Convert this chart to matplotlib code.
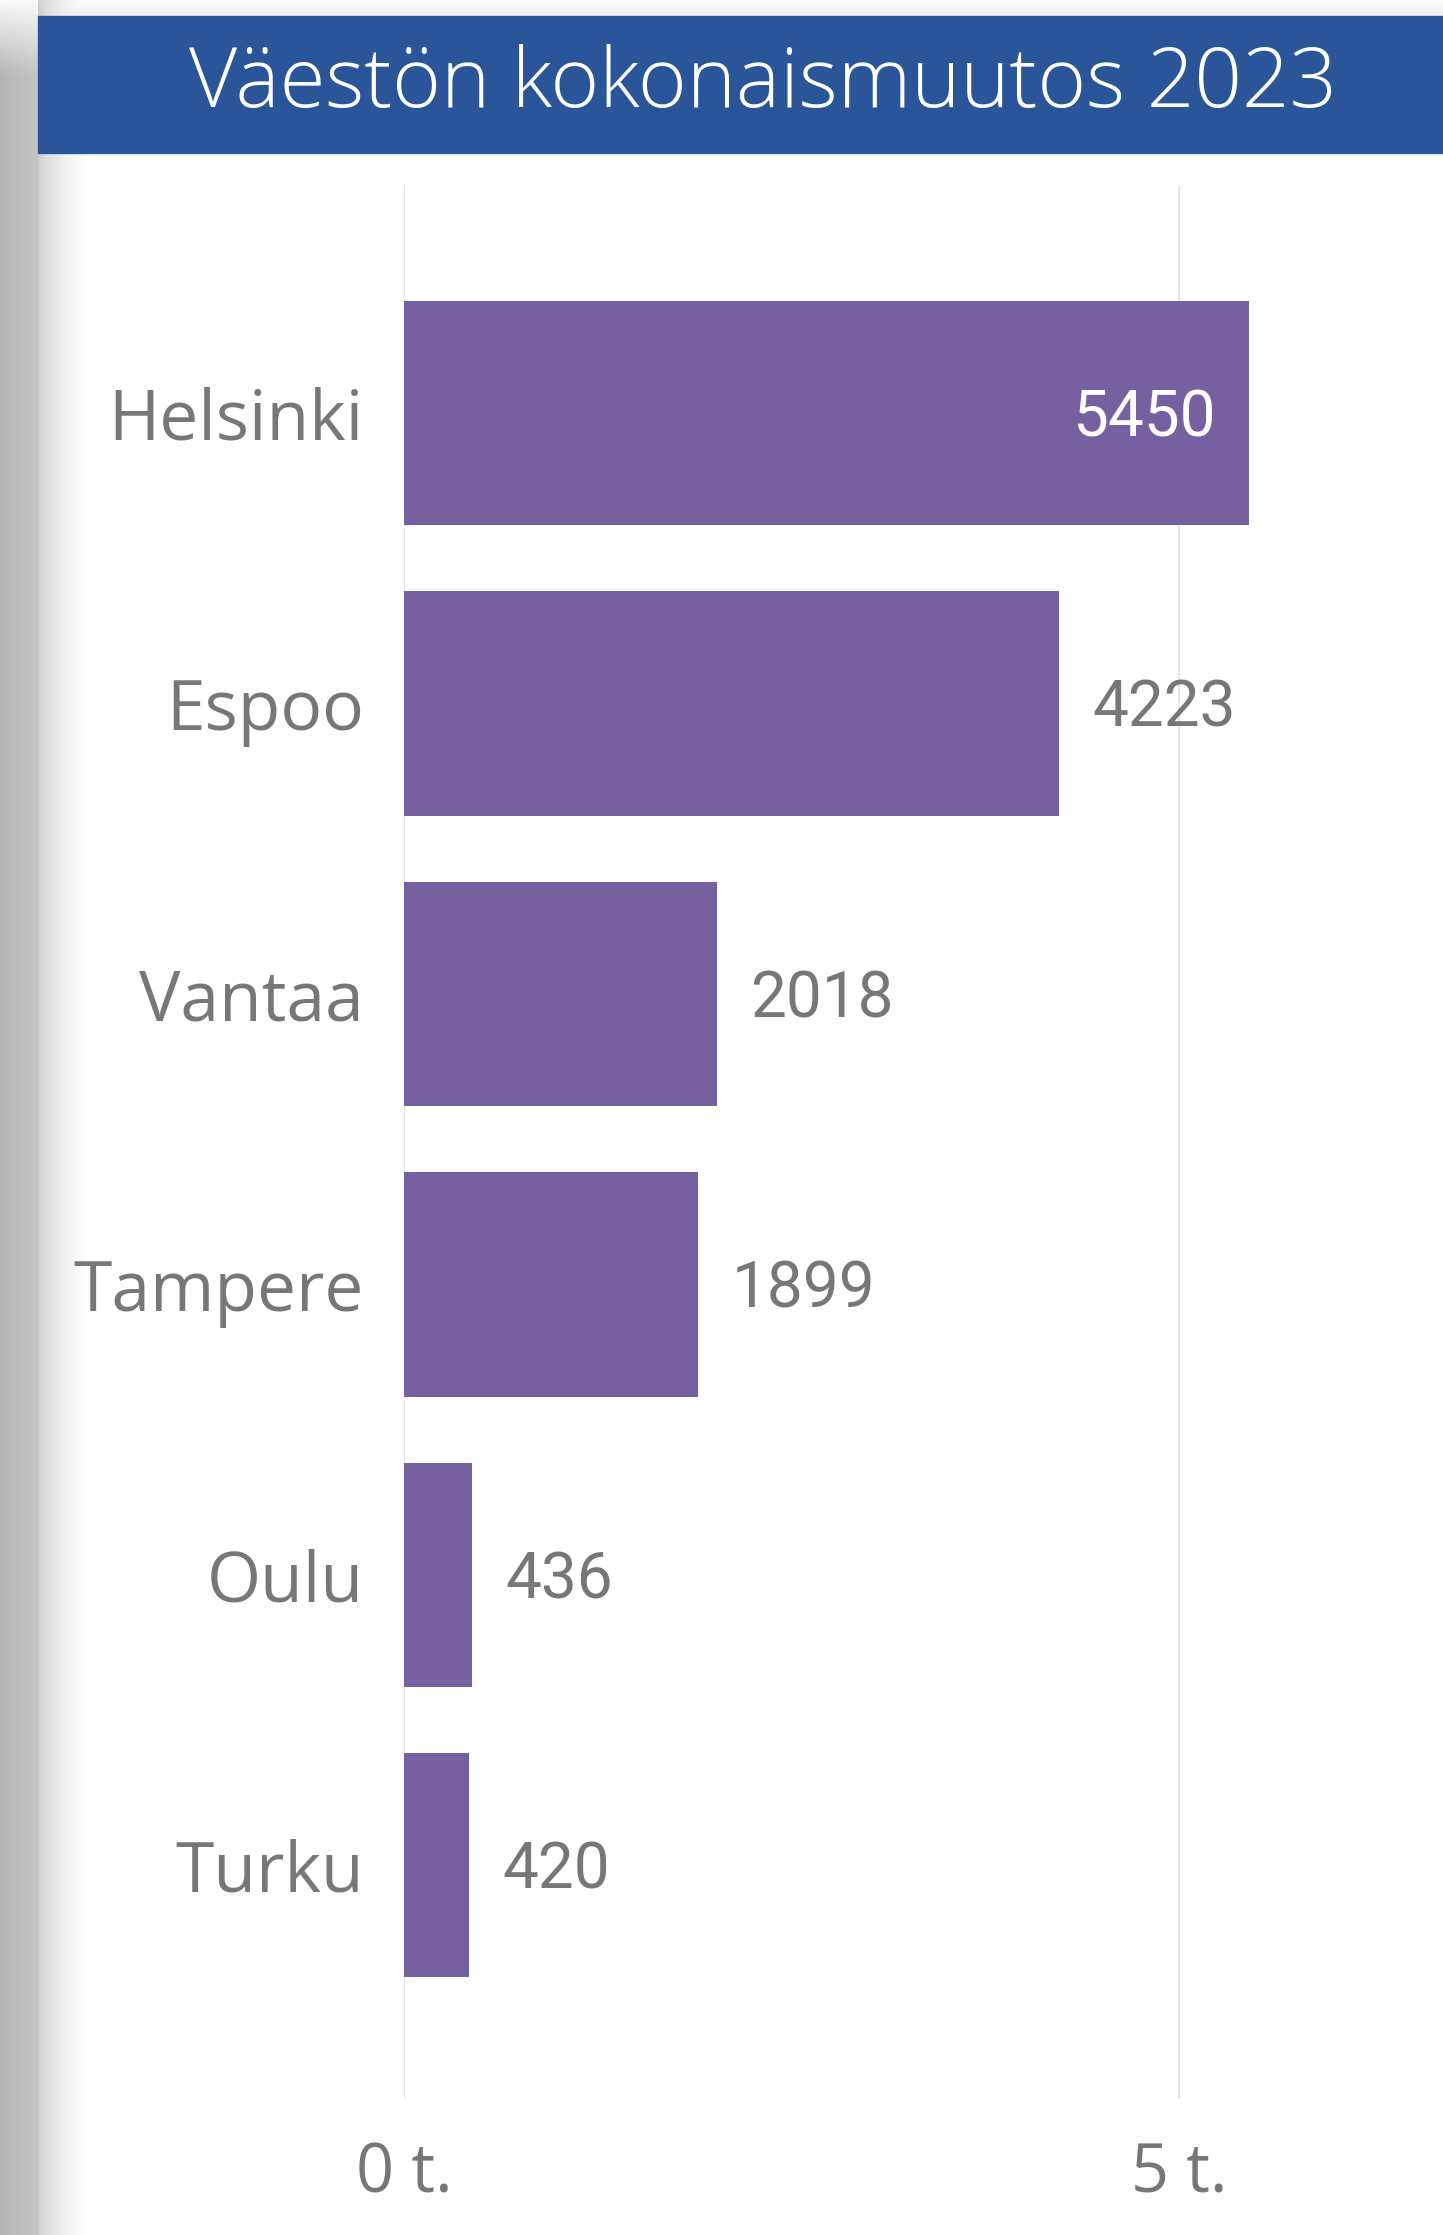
import numpy as np
import matplotlib
matplotlib.use("Agg")
import matplotlib.pyplot as plt
from matplotlib.patches import Rectangle

# Data
cities = ["Helsinki", "Espoo", "Vantaa", "Tampere", "Oulu", "Turku"]
changes = [5450, 4223, 2018, 1899, 436, 420]
x_ticks = [0, 5000]
x_tick_labels = ["0 t.", "5 t."]
title = "Väestön kokonaismuutos 2023"

W, H = 1443, 2235
bar_color = "#7561a0"
header_color = "#2a5699"
text_gray = "#777777"

fig = plt.figure(figsize=(W / 100, H / 100), dpi=100)

# Background (shadow along the left and top edge of the card)
bg = fig.add_axes([0, 0, 1, 1])
bg.set_xlim(0, W)
bg.set_ylim(H, 0)
bg.axis("off")

xs = np.arange(W)[None, :].astype(float)
ys = np.arange(H)[:, None].astype(float)
left = np.where(xs < 38, 0.71 + 0.06 * xs / 38,
                np.where(xs < 85, 0.80 + 0.20 * ((xs - 38) / 47) ** 0.6, 1.0))
shade = np.broadcast_to(left, (H, W)).copy()
top_fade = np.clip(1 - ys / 75, 0, 1)
shade = shade + (1 - shade) * top_fade * 0.92 * (xs < 38)
top_band = np.where(ys < 16, 0.99 - 0.05 * ys / 16, 1.0)
shade = np.minimum(shade, np.broadcast_to(top_band, (H, W)))
bg.imshow(np.dstack([shade] * 3), extent=(0, W, H, 0), aspect="auto",
          interpolation="bilinear", zorder=0)

bg.add_patch(Rectangle((38, 16), W - 38, 137, color=header_color, zorder=1))
bg.text(763, 86, title, color="white", fontsize=60, fontfamily="Open Sans",
        fontweight="light", ha="center", va="center", zorder=2)

# Chart
x0_px, x5_px = 404, 1179
ax_right = 1420
ax_top, ax_bottom = 185, 2099
px_per_unit = (x5_px - x0_px) / 5000
ax = fig.add_axes([x0_px / W, 1 - ax_bottom / H,
                   (ax_right - x0_px) / W, (ax_bottom - ax_top) / H])
ax.patch.set_alpha(0)

pos = np.arange(len(cities))
ax.barh(pos, changes, height=0.773, color=bar_color, zorder=2)
ax.set_xlim(0, (ax_right - x0_px) / px_per_unit)
ax.set_ylim(5.805, -0.785)

ax.set_xticks(x_ticks)
ax.set_xticklabels(x_tick_labels)
ax.set_yticks(pos)
ax.set_yticklabels(cities)
ax.grid(axis="x", color="#e6e6e6", linewidth=1.5, zorder=0)
ax.tick_params(length=0)
ax.tick_params(axis="y", pad=29, labelsize=50, labelcolor=text_gray)
ax.tick_params(axis="x", pad=30, labelsize=48, labelcolor=text_gray)
for lab in ax.get_yticklabels() + ax.get_xticklabels():
    lab.set_fontfamily("Open Sans")
for s in ax.spines.values():
    s.set_visible(False)

for i, v in enumerate(changes):
    if v > 5000:
        ax.annotate(str(v), (v, i), xytext=(-24, -4), textcoords="offset points",
                    ha="right", va="center", color="white", fontsize=46,
                    fontfamily="Roboto", fontweight="normal")
    else:
        ax.annotate(str(v), (v, i), xytext=(24, -4), textcoords="offset points",
                    ha="left", va="center", color=text_gray, fontsize=46,
                    fontfamily="Roboto", fontweight="normal")

fig.savefig("out.png", dpi=100)
